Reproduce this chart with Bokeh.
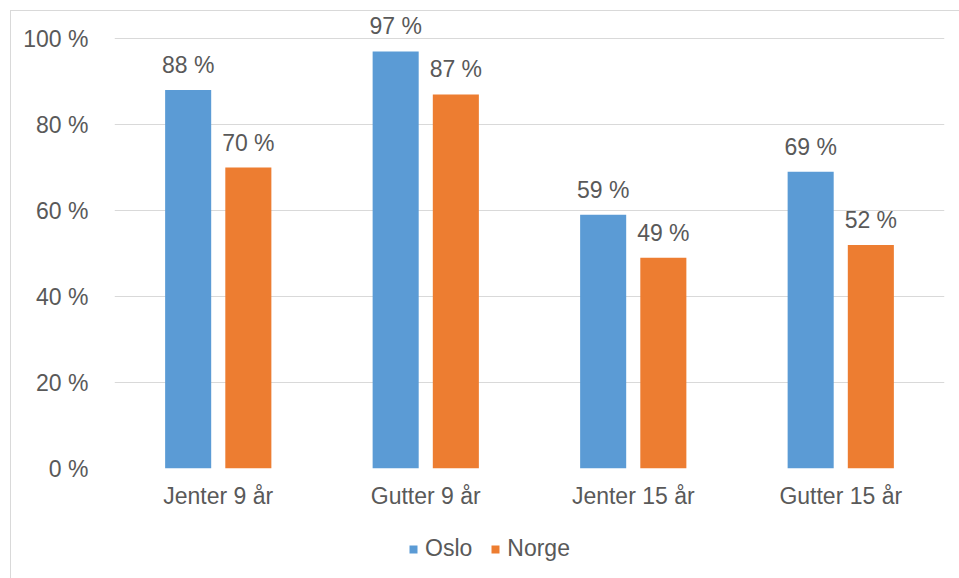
from bokeh.plotting import figure
from bokeh.models import ColumnDataSource, LabelSet, Legend, LegendItem, FixedTicker, Range1d, Spacer
from bokeh.layouts import column, row
from bokeh.core.properties import value
from bokeh.embed import file_html
from bokeh.resources import INLINE

categories = ["Jenter 9 år", "Gutter 9 år", "Jenter 15 år", "Gutter 15 år"]
oslo = [88, 97, 59, 69]
norge = [70, 87, 49, 52]
y_ticks = [0, 20, 40, 60, 80, 100]
y_tick_labels = ["0 %", "20 %", "40 %", "60 %", "80 %", "100 %"]
series_names = ["Oslo", "Norge"]

BLUE = "#5B9BD5"
ORANGE = "#ED7D31"
TEXT = "#595959"
GRID = "#D9D9D9"
FONT = "Liberation Sans"
FS = "23px"

idx = list(range(len(categories)))
off = 0.145
src = ColumnDataSource(dict(
    x_o=[i - off for i in idx], x_n=[i + off for i in idx],
    oslo=oslo, norge=norge,
    lo=[f"{v} %" for v in oslo], ln=[f"{v} %" for v in norge],
))

p = figure(width=948, height=515, output_backend="svg", toolbar_location=None,
           x_range=Range1d(-0.5, 3.5), y_range=Range1d(0, 106.05),
           min_border_left=103, min_border_right=15, min_border_top=1, min_border_bottom=58)
p.outline_line_color = None
p.background_fill_color = "white"
p.border_fill_color = "white"

r1 = p.vbar(x="x_o", top="oslo", width=0.222, source=src, color=BLUE, line_color=None)
r2 = p.vbar(x="x_n", top="norge", width=0.222, source=src, color=ORANGE, line_color=None)

for xcol, ycol, tcol in [("x_o", "oslo", "lo"), ("x_n", "norge", "ln")]:
    p.add_layout(LabelSet(x=xcol, y=ycol, text=tcol, source=src, text_align="center",
                          text_baseline="alphabetic", y_offset=17, text_color=TEXT,
                          text_font=value(FONT), text_font_size=value(FS)))

p.xaxis.ticker = FixedTicker(ticks=idx)
p.xaxis.major_label_overrides = {i: c for i, c in zip(idx, categories)}
p.yaxis.ticker = FixedTicker(ticks=y_ticks)
p.yaxis.major_label_overrides = {t: l for t, l in zip(y_ticks, y_tick_labels)}
for ax in (p.xaxis, p.yaxis):
    ax.axis_line_color = None
    ax.major_tick_line_color = None
    ax.minor_tick_line_color = None
    ax.major_label_text_color = TEXT
    ax.major_label_text_font = FONT
    ax.major_label_text_font_size = FS
p.xaxis.major_label_standoff = 8
p.yaxis.major_label_standoff = 20
p.xgrid.grid_line_color = None
p.ygrid.grid_line_color = GRID
p.ygrid.ticker = FixedTicker(ticks=y_ticks)

# legend strip
lf = figure(width=948, height=52, output_backend="svg", toolbar_location=None,
            x_range=Range1d(0, 1), y_range=Range1d(0, 1),
            min_border=0, min_border_left=0, x_axis_location=None, y_axis_location=None)
lf.outline_line_color = None
lf.xgrid.grid_line_color = None
lf.ygrid.grid_line_color = None
lf.background_fill_color = "white"
lf.border_fill_color = "white"
lr1 = lf.vbar(x=[0.5], top=[0], bottom=[0], width=0.0, color=BLUE, line_color=None)
lr2 = lf.vbar(x=[0.5], top=[0], bottom=[0], width=0.0, color=ORANGE, line_color=None)
legend = Legend(items=[LegendItem(label=series_names[0], renderers=[lr1]),
                       LegendItem(label=series_names[1], renderers=[lr2])],
                orientation="horizontal", location=(294, 16),
                label_text_font=FONT, label_text_font_size=FS, label_text_color=TEXT,
                glyph_width=10, glyph_height=10, label_standoff=7, spacing=18,
                border_line_color=None, background_fill_alpha=0, padding=4, margin=0)
lf.add_layout(legend, "center")

inner = column(p, lf, spacing=0, styles={"border": "1px solid #D9D9D9"})
layout = column(Spacer(height=10, width=10), row(Spacer(width=10, height=10), inner, spacing=0), spacing=0)

open("out.html", "w").write(file_html(layout, INLINE))
